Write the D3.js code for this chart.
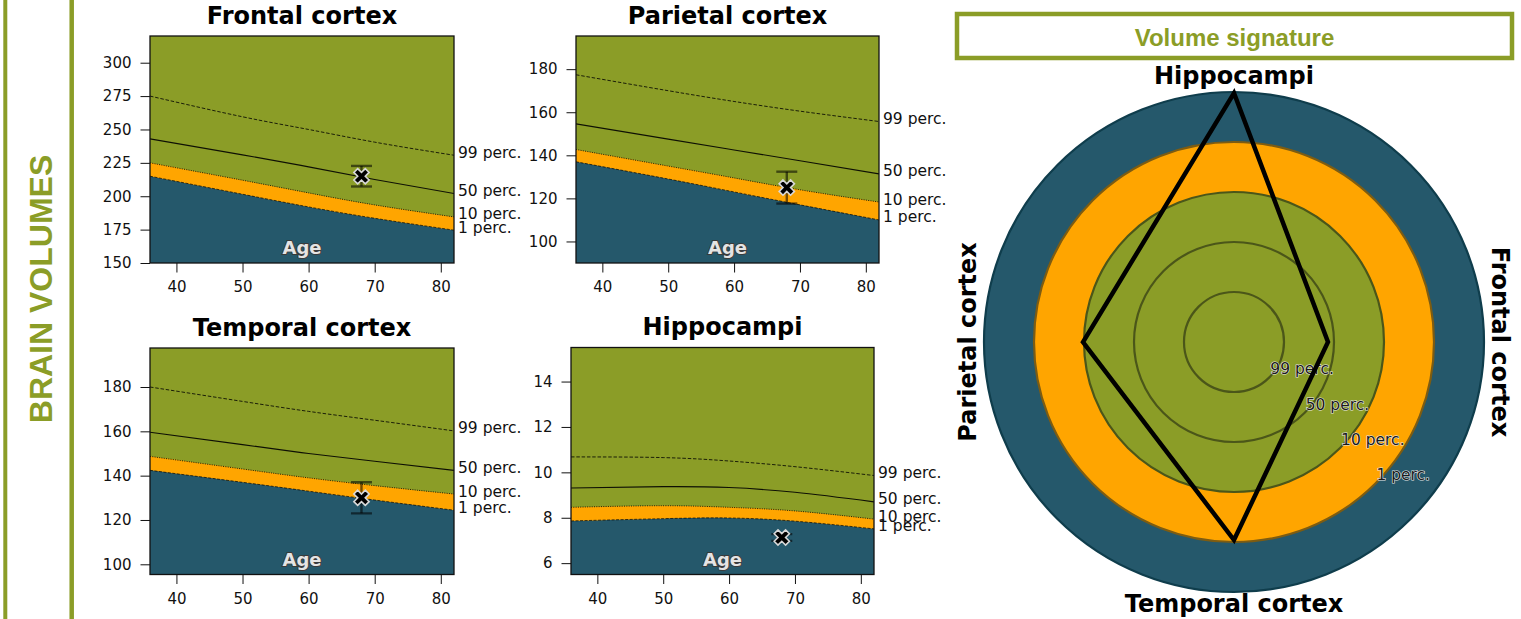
<!DOCTYPE html>
<html>
<head>
<meta charset="utf-8">
<script src="https://cdn.jsdelivr.net/npm/d3@7"></script>
<style>
  body { margin: 0; background: #fff; }
  svg text { font-family: "DejaVu Sans", sans-serif; }
  .banner { font-family: "Liberation Sans", Arial, sans-serif; font-weight: bold; fill: #8b9d27; }
  .axis text { font-size: 15px; fill: #111; }
  .axis path { display: none; }
  .axis line { stroke: #111; stroke-width: 1; }
  .perc-label { font-size: 15.5px; fill: #111; }
  .title { font-size: 24px; font-weight: bold; fill: #000; }
</style>
</head>
<body>
<svg id="chart" width="1521" height="619"></svg>
<script>
// ages at which the normative curves were read
const ages = [36, 50, 60, 70, 82];
const percLabels = ['99 perc.', '50 perc.', '10 perc.', '1 perc.'];
const xTicks = [40, 50, 60, 70, 80];

// curves per region: 99, 50, 10, 1 perc.
const frontalCurves = [
  [275, 259.5, 250, 240.5, 230.7],
  [243, 231, 222, 212.5, 202],
  [225, 212, 202.5, 193.5, 184.5],
  [215, 201.5, 192, 183.5, 174.6]
];
const parietalCurves = [
  [177.4, 170, 165, 160.5, 155.7],
  [154.6, 147.5, 142.5, 137.5, 131.4],
  [142.7, 135, 129.5, 124, 118.3],
  [137, 129, 123, 117, 110]
];
const temporalCurves = [
  [180, 173.5, 169, 165, 160.2],
  [159.6, 154, 150, 146.5, 142.4],
  [148.7, 143, 139, 135.5, 131.7],
  [142.4, 137, 133, 129, 124.4]
];
const hippoCurves = [
  [10.68, 10.65, 10.5, 10.25, 9.86],
  [9.31, 9.37, 9.33, 9.12, 8.7],
  [8.46, 8.53, 8.46, 8.3, 7.94],
  [7.86, 7.96, 7.99, 7.85, 7.51]
];

const regionNames = ['Frontal cortex', 'Parietal cortex', 'Temporal cortex', 'Hippocampi'];
const yDomains = [[150, 320], [90, 195.4], [95.4, 197.6], [5.5, 15.5]];
const yTicks = [
  [150, 175, 200, 225, 250, 275, 300],
  [100, 120, 140, 160, 180],
  [100, 120, 140, 160, 180],
  [6, 8, 10, 12, 14]
];

const patientAge = 68;
const patientVolumes = [215, 125, 130, 7.13];
const patientErrors = [7.7, 7.4, 7, 0.15];

// radar: rings 1..4 = 99, 50, 10, 1 perc., 5 = outer edge
const radarAxes = ['Frontal cortex', 'Hippocampi', 'Parietal cortex', 'Temporal cortex'];
const radarScores = [1.88, 4.98, 3.02, 3.96];
const ringLevels = [1, 2, 3, 4];

const GREEN = '#8b9d27', ORANGE = '#ffa500', NAVY = '#25586b';

class PercentilePanel {
  constructor(_config, _data) {
    this.config = {
      parentElement: _config.parentElement,
      id: _config.id,
      left: _config.left,
      top: _config.top,
      width: _config.width || 304,
      height: _config.height || 227,
      title: _config.title,
      yDomain: _config.yDomain,
      yTicks: _config.yTicks
    };
    this.data = _data;
    this.initVis();
  }

  initVis() {
    let vis = this;
    const w = vis.config.width, h = vis.config.height;

    vis.g = d3.select(vis.config.parentElement).append('g')
      .attr('transform', `translate(${vis.config.left},${vis.config.top})`);

    vis.xScale = d3.scaleLinear().domain([36, 82]).range([0, w]);
    vis.yScale = d3.scaleLinear().domain(vis.config.yDomain).range([h, 0]);

    vis.g.append('defs').append('clipPath')
      .attr('id', 'clip-' + vis.config.id)
      .append('rect')
      .attr('width', w)
      .attr('height', h);

    vis.plot = vis.g.append('g').attr('clip-path', `url(#clip-${vis.config.id})`);

    vis.renderVis();
  }

  renderVis() {
    let vis = this;
    const w = vis.config.width, h = vis.config.height;
    const pts = c => c.map((v, i) => [ages[i], v]);

    vis.plot.append('rect').attr('width', w).attr('height', h).attr('fill', GREEN);

    const area = d3.area()
      .curve(d3.curveNatural)
      .x(d => vis.xScale(d[0]))
      .y0(h)
      .y1(d => vis.yScale(d[1]));

    // orange under the 10 perc. curve, navy under the 1 perc. curve
    vis.plot.append('path').attr('d', area(pts(vis.data.curves[2]))).attr('fill', ORANGE);
    vis.plot.append('path').attr('d', area(pts(vis.data.curves[3]))).attr('fill', NAVY);

    const line = d3.line()
      .curve(d3.curveNatural)
      .x(d => vis.xScale(d[0]))
      .y(d => vis.yScale(d[1]));

    const dashes = ['3.5,1.8', null, '1,1.3', '3,1.5'];
    const widths = [0.9, 1.1, 0.9, 0.9];
    vis.data.curves.forEach((c, i) => {
      vis.plot.append('path')
        .attr('d', line(pts(c)))
        .attr('fill', 'none')
        .attr('stroke', '#000')
        .attr('stroke-opacity', i === 3 ? 0.75 : 0.9)
        .attr('stroke-width', widths[i])
        .attr('stroke-dasharray', dashes[i]);
    });

    // Age label
    vis.plot.append('text')
      .attr('x', w / 2)
      .attr('y', h - 9)
      .attr('text-anchor', 'middle')
      .style('font-size', '18px')
      .style('font-weight', 'bold')
      .attr('fill', '#e4e4e4')
      .attr('stroke', '#3a3a3a')
      .attr('stroke-width', 1.8)
      .attr('paint-order', 'stroke')
      .text('Age');

    // patient measurement with error bar
    const px = vis.xScale(vis.data.age);
    const yLo = vis.yScale(vis.data.value - vis.data.err);
    const yHi = vis.yScale(vis.data.value + vis.data.err);
    const eb = vis.plot.append('g')
      .attr('stroke', '#000')
      .attr('stroke-opacity', 0.55)
      .attr('stroke-width', 2.4);
    eb.append('line').attr('x1', px).attr('x2', px).attr('y1', yLo).attr('y2', yHi);
    eb.append('line').attr('x1', px - 10.5).attr('x2', px + 10.5).attr('y1', yLo).attr('y2', yLo);
    eb.append('line').attr('x1', px - 10.5).attr('x2', px + 10.5).attr('y1', yHi).attr('y2', yHi);

    vis.plot.append('path')
      .attr('d', d3.symbol().type(d3.symbolCross).size(145)())
      .attr('transform', `translate(${px},${vis.yScale(vis.data.value)}) rotate(45)`)
      .attr('fill', '#000')
      .attr('stroke', '#d8d8d8')
      .attr('stroke-width', 1.6);

    // frame
    vis.g.append('rect')
      .attr('width', w).attr('height', h)
      .attr('fill', 'none')
      .attr('stroke', '#111')
      .attr('stroke-width', 1.3);

    // axes
    vis.g.append('g')
      .attr('class', 'axis y-axis')
      .call(d3.axisLeft(vis.yScale).tickValues(vis.config.yTicks).tickSize(9.5).tickPadding(9).tickFormat(d3.format('d')));

    vis.g.append('g')
      .attr('class', 'axis x-axis')
      .attr('transform', `translate(0,${h})`)
      .call(d3.axisBottom(vis.xScale).tickValues(xTicks).tickSize(9.5).tickPadding(9).tickFormat(d3.format('d')));

    // title
    vis.g.append('text')
      .attr('class', 'title')
      .attr('x', w / 2)
      .attr('y', -12.5)
      .attr('text-anchor', 'middle')
      .text(vis.config.title);

    // percentile labels at the right end of each curve
    vis.data.curves.forEach((c, i) => {
      vis.g.append('text')
        .attr('class', 'perc-label')
        .attr('x', w + 4)
        .attr('y', vis.yScale(c[c.length - 1]) - 2.5)
        .attr('dominant-baseline', 'central')
        .text(percLabels[i]);
    });
  }
}

const svg = d3.select('#chart');

// left banner
svg.append('line').attr('x1', 5.3).attr('x2', 5.3).attr('y1', 0).attr('y2', 619)
  .attr('stroke', GREEN).attr('stroke-width', 4);
svg.append('line').attr('x1', 71.7).attr('x2', 71.7).attr('y1', 0).attr('y2', 619)
  .attr('stroke', GREEN).attr('stroke-width', 4.5);
svg.append('text')
  .attr('class', 'banner')
  .attr('transform', 'translate(40.5,289) rotate(-90)')
  .attr('text-anchor', 'middle')
  .attr('dominant-baseline', 'central')
  .style('font-size', '32px')
  .text('BRAIN VOLUMES');

const panelLayout = [
  {left: 150, top: 36, width: 304, height: 227},
  {left: 576, top: 36, width: 303, height: 227},
  {left: 150, top: 348, width: 304, height: 226.5},
  {left: 571, top: 347.5, width: 303, height: 227}
];
const allCurves = [frontalCurves, parietalCurves, temporalCurves, hippoCurves];

regionNames.forEach((name, i) => {
  new PercentilePanel({
    parentElement: '#chart',
    id: 'p' + i,
    left: panelLayout[i].left,
    top: panelLayout[i].top,
    width: panelLayout[i].width,
    height: panelLayout[i].height,
    title: name,
    yDomain: yDomains[i],
    yTicks: yTicks[i]
  }, {
    curves: allCurves[i],
    age: patientAge,
    value: patientVolumes[i],
    err: patientErrors[i]
  });
});

// Volume signature box
svg.append('rect')
  .attr('x', 957).attr('y', 14)
  .attr('width', 555).attr('height', 44)
  .attr('fill', '#fff')
  .attr('stroke', GREEN)
  .attr('stroke-width', 4.5);
svg.append('text')
  .attr('class', 'banner')
  .attr('x', 1234.5).attr('y', 37.5)
  .attr('text-anchor', 'middle')
  .attr('dominant-baseline', 'central')
  .style('font-size', '24px')
  .text('Volume signature');

// radar
const cx = 1234, cy = 342;
const rScale = d3.scaleLinear().domain([0, 5]).range([0, 250]);
const radar = svg.append('g').attr('transform', `translate(${cx},${cy})`);

const ringStyle = {
  5: {fill: NAVY, stroke: '#0f3d4c'},
  4: {fill: ORANGE, stroke: '#7d5c12'},
  3: {fill: GREEN, stroke: '#4b5619'},
  2: {fill: 'none', stroke: '#4b5619'},
  1: {fill: 'none', stroke: '#4b5619'}
};
[5].concat(ringLevels.slice().reverse()).forEach(lv => {
  radar.append('circle')
    .attr('r', rScale(lv))
    .attr('fill', ringStyle[lv].fill)
    .attr('stroke', ringStyle[lv].stroke)
    .attr('stroke-width', 2.2);
});

ringLevels.forEach((lv, i) => {
  const r = rScale(lv);
  radar.append('text')
    .attr('x', r * Math.SQRT1_2 + 1)
    .attr('y', r * Math.SQRT1_2 - 8)
    .attr('dominant-baseline', 'central')
    .style('font-size', '15.5px')
    .attr('fill', '#1a1a1a')
    .attr('stroke', '#e8e8e8')
    .attr('stroke-width', 1.2)
    .attr('paint-order', 'stroke')
    .text(percLabels[i]);
});

// angles: Frontal right, Hippocampi top, Parietal left, Temporal bottom
const angleScale = d3.scalePoint().domain(radarAxes).range([0, 1.5 * Math.PI]);
const radarLine = d3.lineRadial()
  .curve(d3.curveLinearClosed)
  .angle((d, i) => Math.PI / 2 - angleScale(radarAxes[i]))
  .radius(d => rScale(d));
radar.append('path')
  .attr('d', radarLine(radarScores))
  .attr('fill', 'none')
  .attr('stroke', '#000')
  .attr('stroke-width', 4.5)
  .attr('stroke-linejoin', 'miter');

// axis names
radar.append('text').attr('class', 'title')
  .attr('x', 0).attr('y', -258).attr('text-anchor', 'middle').text('Hippocampi');
radar.append('text').attr('class', 'title')
  .attr('x', 0).attr('y', 270).attr('text-anchor', 'middle').text('Temporal cortex');
radar.append('text').attr('class', 'title')
  .attr('transform', 'translate(-266,0) rotate(-90)')
  .attr('text-anchor', 'middle').attr('dominant-baseline', 'central').text('Parietal cortex');
radar.append('text').attr('class', 'title')
  .attr('transform', 'translate(266,0) rotate(90)')
  .attr('text-anchor', 'middle').attr('dominant-baseline', 'central').text('Frontal cortex');
</script>
</body>
</html>
